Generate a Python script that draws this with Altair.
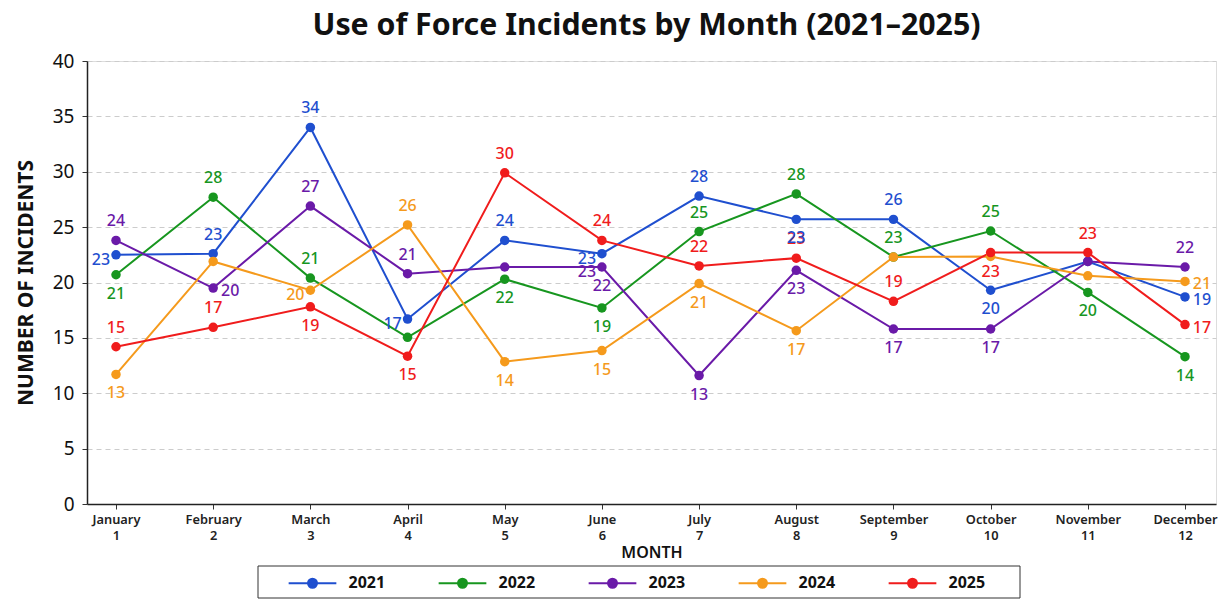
import altair as alt
import pandas as pd

# ---------------- data ----------------
months = ["January", "February", "March", "April", "May", "June", "July",
          "August", "September", "October", "November", "December"]
years = ["2021", "2022", "2023", "2024", "2025"]
colors = ["#1f4fcf", "#17961f", "#6a1aa8", "#f59a1c", "#f01c1c"]

v2021 = [22.5, 22.6, 34.0, 16.7, 23.8, 22.6, 27.8, 25.7, 25.7, 19.3, 21.9, 18.7]
v2022 = [20.7, 27.7, 20.4, 15.05, 20.3, 17.7, 24.6, 28.0, 22.3, 24.65, 19.1, 13.3]
v2023 = [23.8, 19.5, 26.9, 20.8, 21.4, 21.4, 11.6, 21.1, 15.8, 15.8, 21.9, 21.4]
v2024 = [11.7, 21.9, 19.3, 25.2, 12.85, 13.85, 19.9, 15.65, 22.3, 22.35, 20.6, 20.1]
v2025 = [14.2, 15.95, 17.8, 13.35, 29.9, 23.8, 21.5, 22.2, 18.3, 22.7, 22.7, 16.2]

# data labels: (month number, label text, placement)
lab2021 = [(1, "23", "left"), (2, "23", "above"), (3, "34", "above"), (4, "17", "left"),
           (5, "24", "above"), (6, "23", "left"), (7, "28", "above"), (8, "23", "below"),
           (9, "26", "above"), (10, "20", "below"), (12, "19", "right")]
lab2022 = [(1, "21", "below"), (2, "28", "above"), (3, "21", "above"), (5, "22", "below"),
           (6, "19", "below"), (7, "25", "above"), (8, "28", "above"), (9, "23", "above"),
           (10, "25", "above"), (11, "20", "below"), (12, "14", "below")]
lab2023 = [(1, "24", "above"), (2, "20", "right"), (3, "27", "above"), (4, "21", "above"),
           (6, "23", "left"), (6, "22", "below"), (7, "13", "below"), (8, "23", "below"),
           (9, "17", "below"), (10, "17", "below"), (12, "22", "above")]
lab2024 = [(1, "13", "below"), (3, "20", "left"), (4, "26", "above"), (5, "14", "below"),
           (6, "15", "below"), (7, "21", "below"), (8, "17", "below"), (12, "21", "right")]
lab2025 = [(1, "15", "above"), (2, "17", "above"), (3, "19", "below"), (4, "15", "below"),
           (5, "30", "above"), (6, "24", "above"), (7, "22", "above"), (8, "23", "above"),
           (9, "19", "above"), (10, "23", "below"), (11, "23", "above"), (12, "17", "right")]

series = dict(zip(years, [v2021, v2022, v2023, v2024, v2025]))
labels = dict(zip(years, [lab2021, lab2022, lab2023, lab2024, lab2025]))

rows = []
for y in years:
    for i, v in enumerate(series[y]):
        rows.append({"year": y, "month": i + 1, "value": v})
df = pd.DataFrame(rows)

lrows = []
for y in years:
    for m, t, p in labels[y]:
        lrows.append({"year": y, "month": m, "value": series[y][m - 1], "text": t, "place": p})
ldf = pd.DataFrame(lrows)

FONT = "Noto Sans"
LEGEND_PATH = "M-5.3,0H5.3M-1,0A1,1,0,1,0,1,0A1,1,0,1,0,-1,0Z"

months_js = "[" + ",".join("'" + m + "'" for m in months) + "]"

legend = alt.Legend(
    orient="none", legendX=217.5, legendY=514, direction="horizontal", columns=5,
    title=None, symbolType=LEGEND_PATH, symbolSize=81, symbolStrokeWidth=2,
    symbolOpacity=1,
    labelFont=FONT, labelFontSize=16, labelFontWeight="bold", labelColor="#111",
    labelOffset=28, columnPadding=49, padding=0,
)
scale = alt.Scale(domain=years, range=colors)
stroke_enc = alt.Stroke("year:N", scale=scale, legend=legend)
fill_enc = alt.Fill("year:N", scale=scale, legend=legend)

x_enc = alt.X(
    "month:Q",
    scale=alt.Scale(domain=[0.7016, 12.319], nice=False, zero=False),
    axis=alt.Axis(
        values=list(range(1, 13)), format="d",
        labelExpr=f"[{months_js}[datum.value - 1], datum.label]",
        title="MONTH", grid=False,
        labelFont=FONT, labelFontSize=12.8, labelFontWeight=600, labelColor="#222",
        labelLineHeight=16, labelPadding=4, tickSize=5, tickColor="#333",
        domainColor="#222", domainWidth=1.5,
        titleFont=FONT, titleFontSize=16, titleFontWeight=600, titleColor="#111",
        titlePadding=3,
    ),
)
y_enc = alt.Y(
    "value:Q",
    scale=alt.Scale(domain=[0, 40], nice=False),
    axis=alt.Axis(
        values=[0, 5, 10, 15, 20, 25, 30, 35, 40], title="NUMBER OF INCIDENTS",
        labelFont=FONT, labelFontSize=19, labelColor="#111", labelPadding=8,
        tickSize=5, tickColor="#333", domainColor="#222", domainWidth=1.5,
        grid=True, gridDash=[5, 4], gridColor="#cccccc", gridWidth=1,
        titleFont=FONT, titleFontSize=21, titleFontWeight="bold", titleColor="#111",
        titlePadding=16,
    ),
)

lines = alt.Chart(df).mark_line(strokeWidth=2).encode(x=x_enc, y=y_enc, stroke=stroke_enc)
points = alt.Chart(df).mark_circle(size=90, opacity=1).encode(x=x_enc, y=y_enc, fill=fill_enc)

lbase = alt.Chart(ldf).encode(x=x_enc, y=y_enc, fill=fill_enc, text="text:N")
offsets = {"above": (0, -19), "below": (0, 19), "left": (-15, 5), "right": (17, 3)}
texts = []
for place, (dx, dy) in offsets.items():
    texts.append(
        lbase.transform_filter(alt.datum.place == place).mark_text(
            font=FONT, fontSize=16, fontWeight=500, dx=dx, dy=dy,
            align="center", baseline="middle")
    )

box = alt.Chart(pd.DataFrame({"k": [0]})).mark_rect(
    fill="transparent", stroke="#333333", strokeWidth=1
).encode(x=alt.value(171), x2=alt.value(933), y=alt.value(505), y2=alt.value(537))

chart = alt.layer(box, lines, points, *texts).properties(
    width=1129, height=443,
    title=alt.TitleParams(
        "Use of Force Incidents by Month (2021\u20132025)",
        font=FONT, fontSize=30.3, fontWeight="bold", color="#111",
        anchor="middle", dx=-5, offset=11),
    autosize=alt.AutoSizeParams(type="none"),
    padding={"left": 79, "top": 53, "right": 2, "bottom": 95},
).configure_view(stroke=None).configure(background="white")

chart.save("out.html", embed_options={"renderer": "svg", "actions": False})
